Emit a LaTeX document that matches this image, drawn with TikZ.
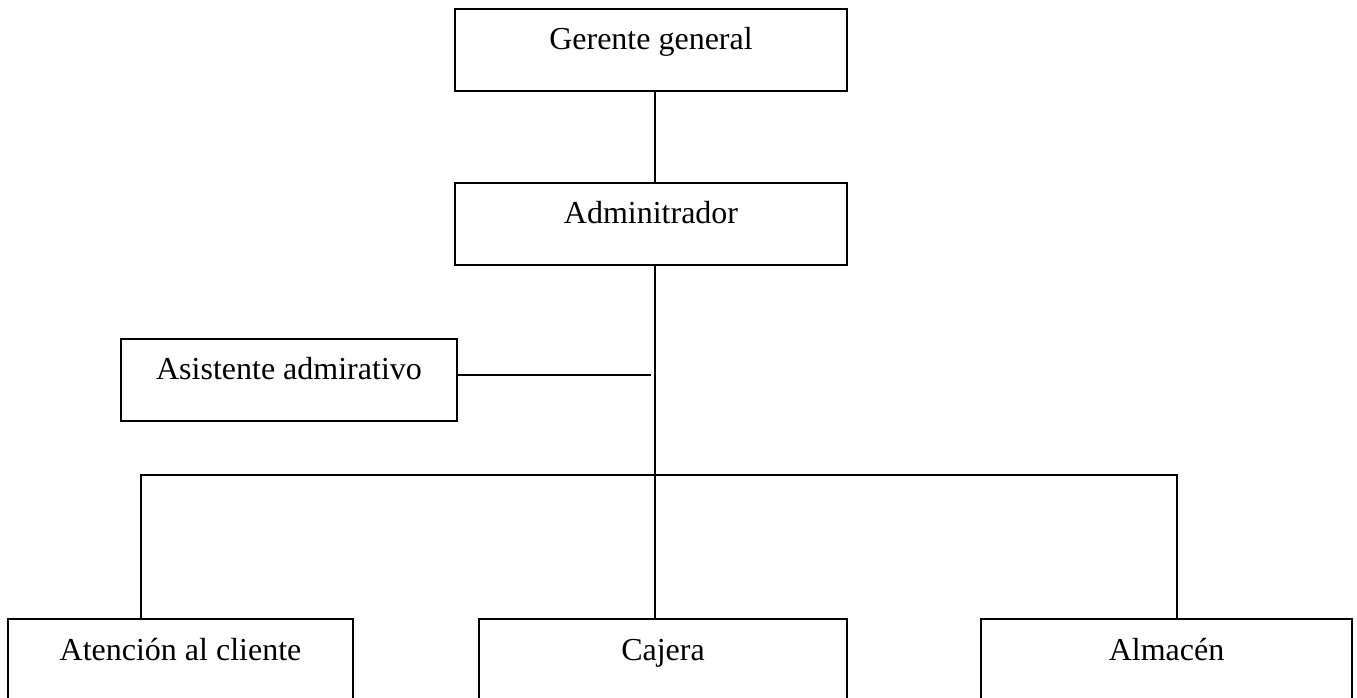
\documentclass[tikz,border=0pt]{standalone}
\usepackage{fontspec}
\setmainfont{Liberation Serif}
\usetikzlibrary{positioning}

\begin{document}
\begin{tikzpicture}[x=0.75pt,y=-0.75pt,
            puesto/.style={draw,rectangle,line width=1.4pt,inner sep=0pt,
                text height=30.75pt,text depth=30.75pt,
                font=\fontsize{24}{28}\selectfont},
            linea/.style={line width=0.9pt}]
            \useasboundingbox (0,0) rectangle (1357,698);

            % Define the boxes as nodes
            \node[puesto,minimum width=294pt] (ger) at (651,50) {Gerente general};
            \node[puesto,minimum width=294pt,below=67.5pt of ger] (adm) {Adminitrador};
            \node[puesto,minimum width=252pt] (asi) at (289,380) {Asistente admirativo};

            \node[puesto,minimum width=258.75pt] (ate) at (180.5,660) {Atención al cliente};
            \node[puesto,minimum width=276pt] (caj) at (663,660) {Cajera};
            \node[puesto,minimum width=278.25pt] (alm) at (1166.5,660) {Almacén};

            % Points of the trunk and the bus
            \coordinate (tronco) at (655,475);
            \coordinate (asifin) at (651,375);
            \coordinate (busizq) at (141,475);
            \coordinate (busder) at (1177,475);

            % Connect the boxes with lines
            \draw[linea] (ger.south -| tronco) -- (adm.north -| tronco);
            \draw[linea] (adm.south -| tronco) -- (caj.north -| tronco);
            \draw[linea] (asi.east |- asifin) -- (asifin);

            \draw[linea] (ate.north -| busizq) -- (busizq) -- (busder) -- (alm.north -| busder);

        \end{tikzpicture}
\end{document}
